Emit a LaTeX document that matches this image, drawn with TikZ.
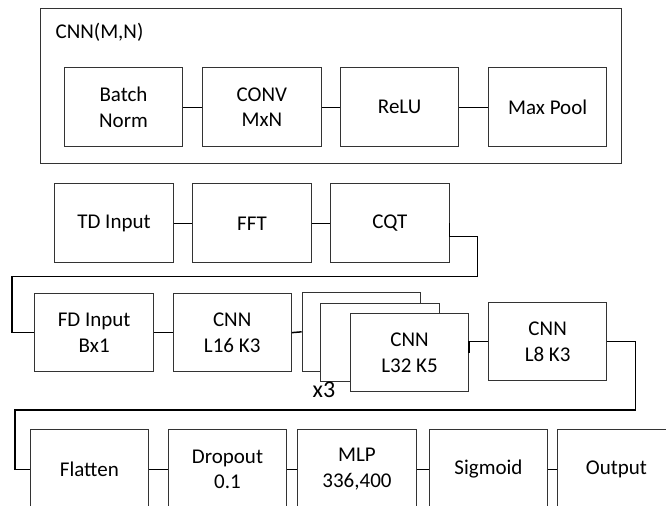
\documentclass[tikz,border=0pt]{standalone}
\usepackage{fontspec}
\setmainfont{Carlito}
\usepackage{tikz}

\begin{document}
\begin{tikzpicture}[x=0.5pt, y=-0.5pt,
	font=\fontsize{10.5}{12.85}\selectfont,
	block/.style={draw=black!80, line width=0.5pt, fill=white, minimum width=59.2pt, minimum height=39.35pt, inner sep=0pt, align=center},
	link/.style={draw=black, line width=0.75pt}]
\useasboundingbox (0,0) rectangle (666,506);
\clip (0,0) rectangle (666,506);

% CNN(M,N) block
\node[block, minimum width=290.3pt, minimum height=77.5pt](cnnbox) at (331,86.5) {};
\node[anchor=base west](cnntitle) at (48.5,39) {CNN(M,N)};
\node[block](batch) at (123.5,107.3) {Batch\\Norm};
\node[block](conv) at (261.85,107.3) {CONV\\MxN};
\node[block](relu) at (399.65,107.3) {ReLU};
\node[block](pool) at (547.65,107.3) {Max Pool};
\foreach \a/\b in {batch/conv, conv/relu, relu/pool}
	\draw[link] (\a) -- (\b);

% time domain part
\node[block](td) at (114,223.3) {TD Input};
\node[block](fft) at (252,223.3) {FFT};
\node[block](cqt) at (389.85,223.3) {CQT};
\draw[link] (td) -- (fft);
\draw[link] (fft) -- (cqt);

% frequency domain part
\node[block](fd) at (94.15,332.65) {FD Input\\Bx1};
\node[block](cnn16) at (232.2,332.65) {CNN\\L16 K3};
\node[block](back1) at (361.35,331.85) {};
\node[block](back2) at (379.85,342.5) {};
\node[block](cnn32) at (409.5,352.65) {CNN\\L32 K5};
\node[font=\fontsize{12}{14}\selectfont](rep) at (324,390) {x3};
\node[block](cnn8) at (547.65,341.65) {CNN\\L8 K3};

\coordinate (t1) at (477.3,276.7);
\coordinate (t2) at (12,276.7);
\draw[link] (cqt.east) -- ++(0,13.4) -| (t1) -- (t2) |- (fd.west);
\draw[link] (fd) -- (cnn16);
\draw[link] (cnn16.east) -- (back1.west);
\draw[link] (cnn32.east) |- (cnn8.west);

% output part
\node[block](flat) at (89.35,469.3) {Flatten};
\node[block](drop) at (227.5,469.3) {Dropout\\0.1};
\node[block](mlp) at (357,469.3) {MLP\\336,400};
\node[block](sig) at (488.5,469.3) {Sigmoid};
\node[block](out) at (616.5,469.3) {Output};

\coordinate (t3) at (635.7,410);
\coordinate (t4) at (15,410);
\draw[link] (cnn8.east) -| (t3) -- (t4) |- (flat.west);
\foreach \a/\b in {flat/drop, drop/mlp, mlp/sig, sig/out}
	\draw[link] (\a) -- (\b);
\end{tikzpicture}
\end{document}
